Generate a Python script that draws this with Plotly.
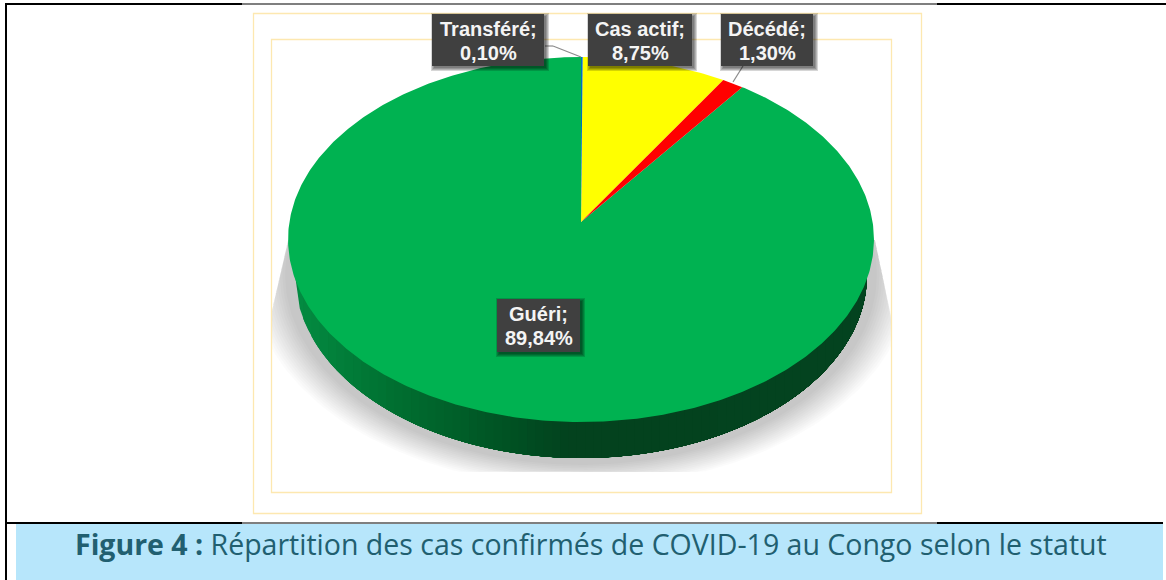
import numpy as np
import plotly.graph_objects as go

# ---- data ----
categories = ["Transféré", "Cas actif", "Décédé", "Guéri"]
values = [0.10, 8.75, 1.30, 89.84]
colors = ["#0070C0", "#FFFF00", "#FF0000", "#00B251"]
caption_bold = "Figure 4 :"
caption_text = "Répartition des cas confirmés de COVID-19 au Congo selon le statut"

# ---- pixel layout / perspective of the 3-D pie ----
W, H = 1166, 580
APEX = (581.0, 222.0)
A, B, K = 291.6, 180.8, 0.0959
SIDE_RX, SIDE_RY, SIDE_CY = 286.0, 183.0, 275.0


def project(theta):
    u, v = np.sin(theta), np.cos(theta)
    w = 1 + K * v
    return APEX[0] + A * u / w, APEX[1] - B * v / w


fig = go.Figure()


def poly(xs, ys, fill):
    fig.add_trace(go.Scatter(x=list(xs), y=list(ys), mode="lines", fill="toself",
                             fillcolor=fill, line=dict(width=0), hoverinfo="skip",
                             showlegend=False))


# soft shadow, clipped to the inner plot frame
N_SH = 14
alpha = 1 - (1 - 0.185) ** (1 / N_SH)
t = np.linspace(0, 2 * np.pi, 240)
for i in range(N_SH):
    f = i / (N_SH - 1)
    rx, ry = 330 - 34 * f, 212 - 22 * f
    x = 581 + rx * np.cos(t)
    y = 275 + ry * np.sin(t)
    y = np.clip(y, 240, 472)
    left = np.where(y < 310, 288 - (y - 240) * 16 / 70, 272)
    right = np.where(y < 315, 875 + (y - 240) * 16 / 75, 891)
    x = np.maximum(np.minimum(x, right), left)
    poly(x, y, f"rgba(0,0,0,{alpha:.4f})")

# side wall: painted left to right, each layer reaching the far end, so no seams show
stop_x = [295, 400, 500, 570, 870]
stop_r = [4, 0, 0, 3, 4]
stop_g = [140, 110, 84, 66, 68]
stop_b = [66, 48, 36, 30, 32]
edges = np.linspace(295, 867, 70)
for x0 in edges[:-1]:
    xm = x0 + (edges[1] - edges[0]) / 2
    col = "rgb(%d,%d,%d)" % tuple(np.interp(xm, stop_x, s) for s in (stop_r, stop_g, stop_b))
    xs = np.linspace(x0, 867, 120)
    ys = SIDE_CY + SIDE_RY * np.sqrt(np.maximum(0, 1 - ((xs - 581) / SIDE_RX) ** 2))
    poly([x0, *xs, 867], [SIDE_CY, *ys, SIDE_CY], col)

# top face: slices built from the values
total = sum(values)
start = 0.0
order = [3, 1, 2, 0]
spans = []
for val in values:
    spans.append((start, start + val))
    start += val
for idx in order:
    s, e = spans[idx]
    th = np.linspace(s / total, e / total, max(4, int((e - s) * 6))) * 2 * np.pi
    rx, ry = project(th)
    poly([APEX[0], *rx], [APEX[1], *ry], colors[idx])

# frames, borders, band
shapes = []


def rect(x0, y0, x1, y1, fill=None, line=None, lw=0, layer="below"):
    shapes.append(dict(type="rect", xref="x", yref="y", x0=x0, y0=y0, x1=x1, y1=y1,
                       fillcolor=fill or "rgba(0,0,0,0)", layer=layer,
                       line=dict(color=line or "rgba(0,0,0,0)", width=lw)))


rect(16, 524, 1163, 580, fill="#B7E6FB")
rect(5, 3, 7, 580, fill="#000000")
rect(5, 3, 242, 5, fill="#000000")
rect(242, 3.5, 937, 4.5, fill="#000000")
rect(937, 3, 1166, 5, fill="#000000")
rect(5, 522, 242, 524, fill="#000000")
rect(242, 522.5, 937, 523.5, fill="#000000")
rect(937, 522, 1163, 524, fill="#000000")
rect(253.5, 13.5, 921.5, 513.5, line="#FDE8B0", lw=1.3)
rect(271.5, 39.5, 891.5, 492.5, line="#FDE8B0", lw=1.3)

for pts in ([(545, 46), (553, 46), (581, 57)], [(743, 66), (733, 82)]):
    for (xa, ya), (xb, yb) in zip(pts[:-1], pts[1:]):
        shapes.append(dict(type="line", xref="x", yref="y", x0=xa, y0=ya, x1=xb, y1=yb,
                           layer="above", line=dict(color="#8C8C8C", width=1.2)))

# data label boxes
boxes = [(432, 14, 544, 66), (588, 14, 692, 66), (721, 14, 813, 66), (497, 299, 580, 352)]
annotations = []
for cat, val, (x0, y0, x1, y1) in zip(categories, values, boxes):
    for k in range(4):
        d = 5 - k
        shapes.append(dict(type="rect", xref="x", yref="y", x0=x0 + 4 - d, y0=y0 + 4 - d,
                           x1=x1 + d, y1=y1 + d, layer="above",
                           fillcolor="rgba(0,0,0,0.16)", line=dict(width=0)))
    rect(x0, y0, x1, y1, fill="#404040", layer="above")
    lines = [f"{cat};", f"{val:.2f}%".replace(".", ",")]
    for text, dy in zip(lines, (15, 39)):
        annotations.append(dict(x=(x0 + x1) / 2, y=y0 + dy, xref="x", yref="y", text=text,
                                showarrow=False, align="center",
                                font=dict(family="Liberation Sans", size=20, color="#F4F4F4",
                                          weight="bold")))

annotations.append(dict(x=590.5, y=544, xref="x", yref="y", showarrow=False,
                        text=f"<b>{caption_bold}</b> {caption_text}",
                        font=dict(family="Open Sans", size=28.5, color="#215F70")))

fig.update_layout(width=W, height=H, margin=dict(l=0, r=0, t=0, b=0),
                  paper_bgcolor="white", plot_bgcolor="white", showlegend=False,
                  xaxis=dict(range=[0, W], visible=False, fixedrange=True),
                  yaxis=dict(range=[H, 0], visible=False, fixedrange=True),
                  shapes=shapes, annotations=annotations)

fig.write_html("out.html", config=dict(displayModeBar=False),
               post_script="document.body.style.margin='0';document.body.style.overflow='hidden';")
